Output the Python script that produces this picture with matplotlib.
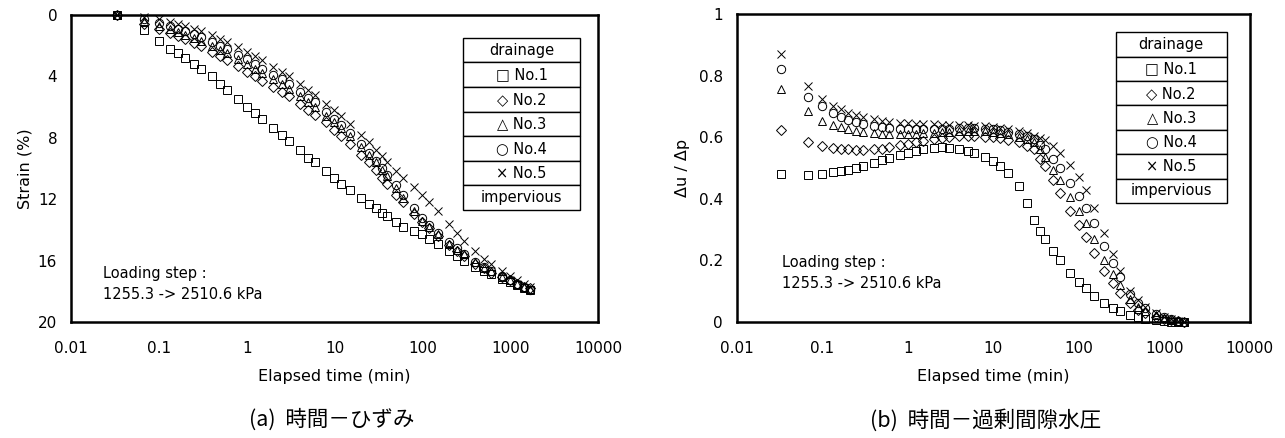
import matplotlib
matplotlib.use("Agg")
from matplotlib import pyplot as plt

# elapsed time (min), shared by every series
t = [0.033, 0.067, 0.1, 0.133, 0.167, 0.2, 0.25, 0.3, 0.4, 0.5, 0.6, 0.8, 1, 1.25, 1.5,
     2, 2.5, 3, 4, 5, 6, 8, 10, 12, 15, 20, 25, 30, 35, 40, 50, 60, 80, 100, 120,
     150, 200, 250, 300, 400, 500, 600, 800, 1000, 1200, 1440, 1700]

# (a) strain (%)
strain1 = [0, 1.0, 1.7, 2.2, 2.5, 2.8, 3.2, 3.5, 4.0, 4.5, 4.9, 5.5, 6.0, 6.4, 6.8,
           7.4, 7.8, 8.2, 8.8, 9.3, 9.6, 10.2, 10.6, 11.0, 11.4, 11.9, 12.3, 12.6, 12.9, 13.1, 13.5, 13.8, 14.1, 14.3, 14.6,
           14.9, 15.4, 15.7, 16.0, 16.4, 16.7, 16.9, 17.2, 17.4, 17.6, 17.8, 17.9]
strain2 = [0, 0.6, 0.9, 1.2, 1.4, 1.6, 1.85, 2.05, 2.4, 2.7, 2.95, 3.35, 3.7, 4.0, 4.3,
           4.7, 5.0, 5.3, 5.8, 6.2, 6.5, 7.0, 7.5, 7.9, 8.4, 9.1, 9.6, 10.1, 10.6, 11.0, 11.7, 12.2, 13.0, 13.5, 13.9,
           14.4, 15.0, 15.4, 15.7, 16.2, 16.5, 16.8, 17.1, 17.3, 17.5, 17.7, 17.8]
strain3 = [0, 0.4, 0.7, 0.9, 1.1, 1.3, 1.5, 1.7, 2.0, 2.3, 2.5, 2.9, 3.2, 3.5, 3.8,
           4.2, 4.5, 4.8, 5.3, 5.7, 6.0, 6.6, 7.0, 7.4, 7.9, 8.6, 9.1, 9.6, 10.1, 10.5, 11.3, 11.9, 12.8, 13.4, 13.8,
           14.3, 14.9, 15.3, 15.6, 16.1, 16.5, 16.7, 17.1, 17.3, 17.5, 17.7, 17.85]
strain4 = [0, 0.3, 0.5, 0.7, 0.9, 1.05, 1.25, 1.45, 1.75, 2.0, 2.25, 2.6, 2.9, 3.2, 3.5,
           3.9, 4.2, 4.5, 5.0, 5.4, 5.7, 6.3, 6.8, 7.2, 7.7, 8.4, 9.0, 9.5, 10.0, 10.4, 11.1, 11.7, 12.6, 13.2, 13.7,
           14.2, 14.8, 15.2, 15.6, 16.1, 16.4, 16.7, 17.0, 17.3, 17.5, 17.7, 17.9]
strain5 = [0, 0.15, 0.3, 0.45, 0.6, 0.75, 0.9, 1.05, 1.3, 1.55, 1.75, 2.1, 2.4, 2.7, 2.95,
           3.4, 3.7, 4.0, 4.5, 4.9, 5.2, 5.8, 6.2, 6.6, 7.1, 7.8, 8.3, 8.8, 9.2, 9.6, 10.2, 10.6, 11.2, 11.7, 12.2,
           12.8, 13.6, 14.2, 14.7, 15.4, 15.9, 16.2, 16.7, 17.0, 17.3, 17.5, 17.7]

# (b) excess pore pressure ratio du/dp
ratio1 = [0.48, 0.478, 0.48, 0.487, 0.49, 0.495, 0.50, 0.507, 0.517, 0.525, 0.532, 0.542, 0.55, 0.556, 0.56,
          0.565, 0.567, 0.566, 0.562, 0.556, 0.55, 0.537, 0.522, 0.508, 0.485, 0.44, 0.385, 0.33, 0.295, 0.27, 0.23, 0.2, 0.158, 0.13, 0.11,
          0.085, 0.06, 0.045, 0.035, 0.022, 0.015, 0.01, 0.005, 0.003, 0.001, 0.0, 0.0]
ratio2 = [0.624, 0.583, 0.572, 0.566, 0.562, 0.56, 0.558, 0.558, 0.56, 0.563, 0.567, 0.573, 0.578, 0.584, 0.588,
          0.594, 0.598, 0.60, 0.603, 0.604, 0.604, 0.602, 0.60, 0.597, 0.592, 0.583, 0.572, 0.56, 0.53, 0.505, 0.46, 0.42, 0.36, 0.315, 0.275,
          0.225, 0.165, 0.125, 0.095, 0.06, 0.04, 0.03, 0.017, 0.01, 0.005, 0.002, 0.0]
ratio3 = [0.756, 0.686, 0.653, 0.64, 0.632, 0.626, 0.62, 0.616, 0.612, 0.61, 0.609, 0.609, 0.61, 0.611, 0.613,
          0.615, 0.617, 0.618, 0.62, 0.621, 0.621, 0.62, 0.618, 0.615, 0.61, 0.602, 0.594, 0.585, 0.56, 0.535, 0.495, 0.46, 0.405, 0.36, 0.32,
          0.27, 0.20, 0.155, 0.12, 0.075, 0.05, 0.037, 0.022, 0.013, 0.007, 0.003, 0.001]
ratio4 = [0.82, 0.73, 0.70, 0.677, 0.665, 0.656, 0.648, 0.642, 0.636, 0.632, 0.63, 0.627, 0.626, 0.626, 0.626,
          0.627, 0.628, 0.628, 0.629, 0.629, 0.629, 0.627, 0.625, 0.622, 0.617, 0.61, 0.603, 0.595, 0.575, 0.56, 0.53, 0.50, 0.45, 0.41, 0.37,
          0.32, 0.245, 0.19, 0.145, 0.09, 0.062, 0.045, 0.026, 0.015, 0.008, 0.004, 0.001]
ratio5 = [0.87, 0.765, 0.725, 0.70, 0.69, 0.68, 0.672, 0.665, 0.658, 0.653, 0.65, 0.647, 0.645, 0.644, 0.643,
          0.642, 0.641, 0.641, 0.64, 0.638, 0.637, 0.635, 0.632, 0.63, 0.627, 0.62, 0.613, 0.605, 0.597, 0.59, 0.57, 0.55, 0.51, 0.47, 0.43,
          0.37, 0.29, 0.22, 0.165, 0.10, 0.07, 0.05, 0.03, 0.015, 0.008, 0.004, 0.001]

markers = ["s", "D", "^", "o", "x"]
legend_rows = ["drainage", "\u25a1 No.1", "\u25c7 No.2", "\u25b3 No.3", "\u25cb No.4", "\u00d7 No.5", "impervious"]
xticks = [0.01, 0.1, 1, 10, 100, 1000, 10000]
xticklabels = ["0.01", "0.1", "1", "10", "100", "1000", "10000"]

plt.rcParams["font.family"] = ["DejaVu Sans"]

fig = plt.figure(figsize=(12.85, 4.38), dpi=100)
axA = fig.add_axes([0.0553, 0.265, 0.410, 0.701])
axB = fig.add_axes([0.5735, 0.265, 0.399, 0.703])


def drawSeries(ax, series):
    for ys, m in zip(series, markers):
        ms = 5 if m == "D" else 6
        ax.plot(t, ys, ls="none", marker=m, ms=ms, mfc="none", mec="k", mew=0.7, clip_on=False)


def styleAxis(ax):
    ax.set_xscale("log")
    ax.set_xlim(0.01, 10000)
    ax.set_xticks(xticks)
    ax.set_xticklabels(xticklabels)
    ax.minorticks_off()
    ax.tick_params(length=0, labelsize=11)
    ax.tick_params(axis="x", pad=14)
    ax.tick_params(axis="y", pad=10)
    for s in ax.spines.values():
        s.set_linewidth(1.8)
    ax.set_xlabel("Elapsed time (min)", fontsize=11.5, labelpad=9)


def drawLegend(ax, box):
    tab = ax.table(cellText=[[r] for r in legend_rows], cellLoc="center", bbox=box)
    tab.auto_set_font_size(False)
    tab.set_fontsize(10.5)
    for cell in tab.get_celld().values():
        cell.set_linewidth(1.0)
        cell.set_edgecolor("k")
    tab.set_zorder(5)


# (a)
drawSeries(axA, [strain1, strain2, strain3, strain4, strain5])
styleAxis(axA)
axA.set_ylim(20, 0)
axA.set_yticks([0, 4, 8, 12, 16, 20])
axA.set_ylabel("Strain (%)", fontsize=11.5, labelpad=4)
axA.text(0.061, 0.125, "Loading step :\n1255.3 -> 2510.6 kPa", transform=axA.transAxes,
         fontsize=10.5, va="center", ha="left", linespacing=1.5)
drawLegend(axA, [0.744, 0.365, 0.222, 0.560])

# (b)
drawSeries(axB, [ratio1, ratio2, ratio3, ratio4, ratio5])
styleAxis(axB)
axB.set_ylim(0, 1)
axB.set_yticks([0, 0.2, 0.4, 0.6, 0.8, 1])
axB.set_yticklabels(["0", "0.2", "0.4", "0.6", "0.8", "1"])
axB.set_ylabel("\u0394u / \u0394p", fontsize=11.5, labelpad=6)
axB.text(0.088, 0.158, "Loading step :\n1255.3 -> 2510.6 kPa", transform=axB.transAxes,
         fontsize=10.5, va="center", ha="left", linespacing=1.5)
drawLegend(axB, [0.739, 0.386, 0.216, 0.555])

cjk = ["Noto Sans CJK JP", "DejaVu Sans"]
fig.text(0.258, 0.041, "(a)  時間－ひずみ", fontsize=15.5, ha="center", va="center", family=cjk)
fig.text(0.767, 0.041, "(b)  時間－過剰間隙水圧", fontsize=15.5, ha="center", va="center", family=cjk)

fig.savefig("out.png", dpi=100)
